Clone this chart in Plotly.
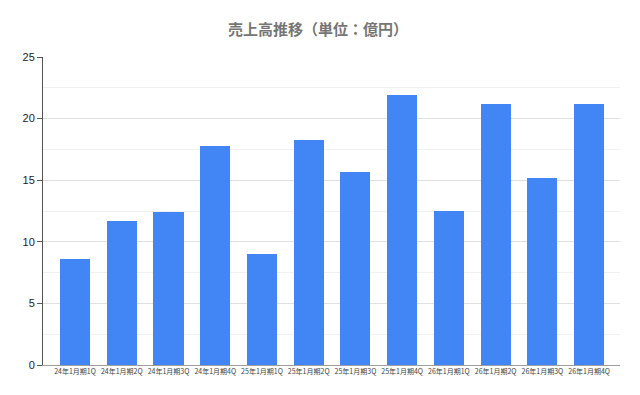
import plotly.graph_objects as go

categories = ["24年1月期1Q", "24年1月期2Q", "24年1月期3Q", "24年1月期4Q",
              "25年1月期1Q", "25年1月期2Q", "25年1月期3Q", "25年1月期4Q",
              "26年1月期1Q", "26年1月期2Q", "26年1月期3Q", "26年1月期4Q"]
sales = [8.63, 11.72, 12.42, 17.8, 9.0, 18.3, 15.65, 21.95, 12.47, 21.2, 15.17, 21.2]
y_ticks = [0, 5, 10, 15, 20, 25]

fig = go.Figure(go.Bar(
    x=list(range(len(categories))), y=sales,
    marker=dict(color="#4285F4", line=dict(width=0)),
    width=0.642,
))

fig.update_layout(
    width=640, height=395,
    margin=dict(l=43, r=20, t=57, b=30, autoexpand=False),
    paper_bgcolor="white", plot_bgcolor="white",
    showlegend=False,
    title=dict(text="<b>売上高推移（単位：億円）</b>", x=0.497, xanchor="center", y=0.925, yanchor="middle",
               font=dict(family="Noto Sans CJK JP", size=15, color="#757575")),
    font=dict(family="Liberation Sans, Arial, sans-serif"),
    bargap=0,
)
fig.update_xaxes(
    range=[-0.685, 11.66],
    tickmode="array", tickvals=list(range(len(categories))), ticktext=categories,
    tickangle=0, automargin=False,
    tickfont=dict(family="Noto Sans CJK JP", size=7, color="#444444"),
    showgrid=False, showline=True, linecolor="#9e9e9e", linewidth=1,
    ticks="", zeroline=False,
)
fig.update_yaxes(
    range=[0, 25], automargin=False,
    tickmode="array", tickvals=y_ticks,
    tickfont=dict(size=11, color="#222222"),
    showgrid=True, gridcolor="#e0e0e0", gridwidth=1,
    minor=dict(dtick=2.5, showgrid=True, gridcolor="#f1f1f1", ticks=""),
    showline=True, linecolor="#555555", linewidth=1,
    ticks="outside", ticklen=5, tickcolor="#555555",
    zeroline=False,
)

fig.write_html("out.html")
